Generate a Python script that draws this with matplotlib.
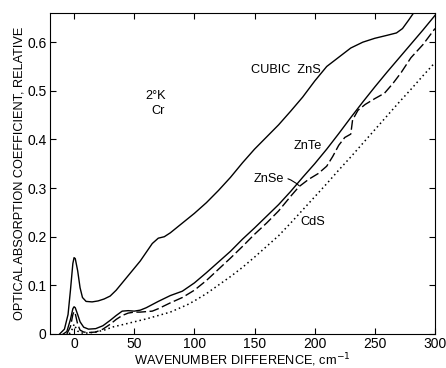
import matplotlib
matplotlib.use('Agg')
import matplotlib.pyplot as plt
import numpy as np

plt.rcParams['font.family'] = ['Liberation Sans Narrow', 'Liberation Sans', 'DejaVu Sans']

# Cubic ZnS (solid, top)
zns_x = [-12, -8, -5, -3, -1, 0, 1, 3, 5, 7, 10, 15, 20, 25, 30, 35, 40, 45, 50, 55,
         60, 65, 70, 75, 80, 85, 90, 100, 110, 120, 130, 140, 150, 160, 170, 180, 190,
         200, 210, 220, 230, 240, 250, 260, 268, 273, 278, 285]
zns_y = [0, 0.01, 0.04, 0.09, 0.145, 0.157, 0.155, 0.13, 0.095, 0.075, 0.067, 0.066,
         0.068, 0.072, 0.078, 0.09, 0.105, 0.12, 0.135, 0.15, 0.168, 0.186, 0.197, 0.2,
         0.208, 0.218, 0.228, 0.248, 0.27, 0.295, 0.322, 0.352, 0.38, 0.405, 0.43, 0.458,
         0.487, 0.52, 0.55, 0.569, 0.588, 0.600, 0.608, 0.614, 0.619, 0.628, 0.645, 0.67]

# ZnTe (solid, middle)
znte_x = [-9, -6, -3, -1, 0, 1, 3, 5, 8, 12, 18, 24, 30, 35, 40, 45, 50, 55, 60, 70,
          80, 90, 100, 110, 120, 130, 140, 150, 160, 170, 180, 190, 200, 210, 220, 230,
          240, 250, 260, 270, 280, 290, 300]
znte_y = [0, 0.005, 0.03, 0.052, 0.056, 0.054, 0.04, 0.025, 0.014, 0.01, 0.011, 0.017,
          0.028, 0.038, 0.047, 0.048, 0.047, 0.049, 0.054, 0.067, 0.079, 0.088, 0.105,
          0.126, 0.148, 0.17, 0.195, 0.218, 0.242, 0.266, 0.293, 0.322, 0.35, 0.38,
          0.412, 0.445, 0.477, 0.508, 0.538, 0.567, 0.596, 0.625, 0.655]

# ZnSe (dashed)
znse_x = [-6, -3, -1, 0, 1, 3, 5, 8, 12, 18, 24, 30, 35, 40, 45, 50, 55, 60, 65, 70,
          80, 90, 100, 110, 120, 130, 140, 150, 160, 170, 180, 187, 195, 203, 210, 215,
          220, 225, 230, 231.5, 236, 242, 250, 258, 265, 272, 280, 290, 300]
znse_y = [0, 0.015, 0.04, 0.046, 0.042, 0.02, 0.008, 0.004, 0.003, 0.004, 0.01, 0.02,
          0.03, 0.038, 0.043, 0.045, 0.045, 0.046, 0.047, 0.052, 0.064, 0.075, 0.09,
          0.11, 0.133, 0.156, 0.18, 0.205, 0.228, 0.253, 0.283, 0.303, 0.318, 0.33,
          0.345, 0.365, 0.388, 0.404, 0.411, 0.44, 0.46, 0.472, 0.484, 0.495, 0.515,
          0.538, 0.568, 0.595, 0.628]

# CdS (dotted)
cds_x = [-4, -1, 0, 1, 3, 6, 12, 18, 25, 33, 40, 50, 60, 70, 80, 94, 100, 110, 122,
         130, 140, 150, 160, 170, 180, 190, 200, 210, 220, 230, 240, 250, 260, 270,
         280, 290, 300]
cds_y = [0, 0.012, 0.02, 0.015, 0.006, 0.002, 0.002, 0.004, 0.008, 0.015, 0.019, 0.025,
         0.031, 0.038, 0.045, 0.06, 0.068, 0.083, 0.104, 0.118, 0.137, 0.158, 0.18,
         0.202, 0.228, 0.255, 0.282, 0.309, 0.337, 0.364, 0.392, 0.42, 0.448, 0.476,
         0.503, 0.531, 0.558]

xticks = [0, 50, 100, 150, 200, 250, 300]
yticks = [0, 0.1, 0.2, 0.3, 0.4, 0.5, 0.6]
ytick_labels = ['0', '0.1', '0.2', '0.3', '0.4', '0.5', '0.6']

fig = plt.figure(figsize=(4.46, 3.68), dpi=100)
ax = fig.add_axes([0.1121, 0.0924, 0.8632, 0.8723])

ax.plot(zns_x, zns_y, color='black', lw=1.0)
ax.plot(znte_x, znte_y, color='black', lw=1.0)
ax.plot(znse_x, znse_y, color='black', lw=1.0, linestyle=(0, (7, 2.5)))
ax.plot(cds_x, cds_y, color='black', lw=1.1, linestyle=(0, (1, 2)))

ax.set_xlim(-20, 300)
ax.set_ylim(0, 0.66)
ax.set_xticks(xticks)
ax.set_xticklabels([str(t) for t in xticks])
ax.set_yticks(yticks)
ax.set_yticklabels(ytick_labels)
ax.tick_params(direction='in', top=True, right=True, length=4, width=0.8,
               labelsize=10, pad=2.5)
for s in ax.spines.values():
    s.set_linewidth(0.8)

ax.set_xlabel('WAVENUMBER DIFFERENCE, cm$^{-1}$', fontsize=9.2, labelpad=0)
ax.set_ylabel('OPTICAL ABSORPTION COEFFICIENT, RELATIVE', fontsize=9.2, labelpad=1)

ax.text(175.8, 0.542, 'CUBIC  ZnS', fontsize=9.2, ha='center', va='center')
ax.text(67.5, 0.489, '2°K', fontsize=9.2, ha='center', va='center')
ax.text(70, 0.458, 'Cr', fontsize=9.2, ha='center', va='center')
ax.text(194, 0.386, 'ZnTe', fontsize=9.2, ha='center', va='center')
ax.text(198, 0.23, 'CdS', fontsize=9.2, ha='center', va='center')
ax.annotate('ZnSe', xy=(187, 0.305), xytext=(161.7, 0.318), fontsize=9.2,
            ha='center', va='center',
            arrowprops=dict(arrowstyle='-', lw=0.8, color='black',
                            connectionstyle='arc3,rad=-0.3', shrinkA=1, shrinkB=0))

fig.savefig('out.png', dpi=100)
